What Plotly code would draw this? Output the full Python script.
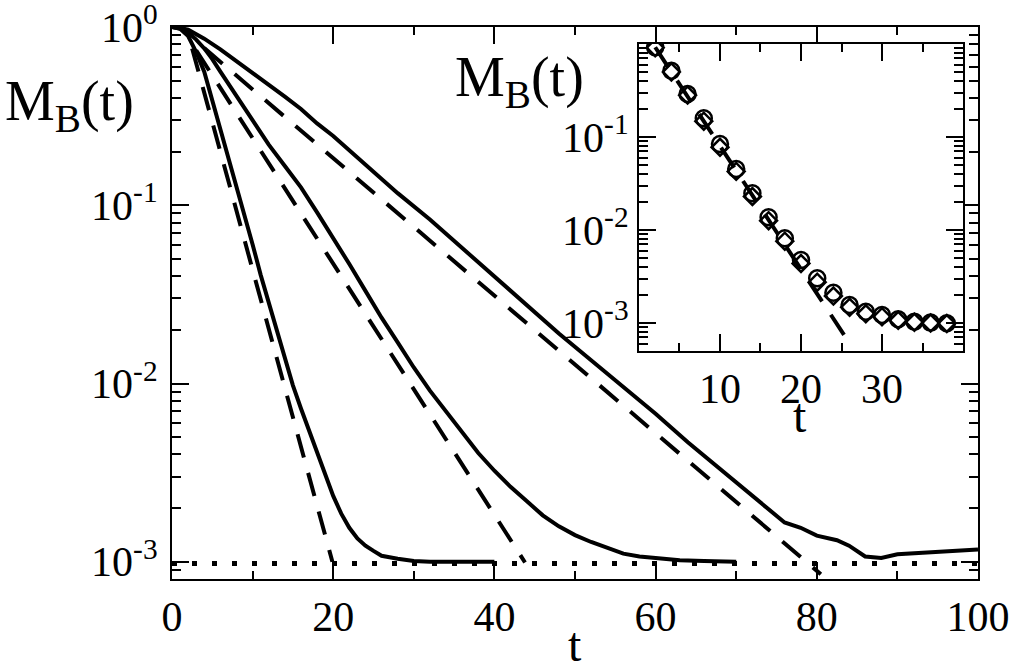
import plotly.graph_objects as go

# main panel: three solid curves, their exponential fits (dashed), floor (dotted)
t1 = [0, 1, 2, 3, 4, 5, 6, 7, 8, 9, 10, 11, 12, 13, 14, 15, 16, 17, 18, 19, 20,
      21, 22, 23, 24, 25, 26, 28, 30, 32, 34, 36, 38, 40]
m1 = [1.0, 0.977, 0.891, 0.724, 0.562, 0.389, 0.269, 0.186, 0.126, 0.0871, 0.0603,
      0.0407, 0.0282, 0.0195, 0.0138, 0.00977, 0.00724, 0.0055, 0.00407, 0.00309,
      0.00234, 0.00186, 0.00155, 0.00135, 0.00123, 0.00115, 0.00108, 0.00104,
      0.00101, 0.001, 0.000995, 0.001, 0.000998, 0.001]

t2 = [0, 1, 2, 3, 4, 5, 6, 7, 8, 9, 10, 12, 14, 16, 18, 20, 22, 24, 26, 28, 30,
      32, 34, 36, 38, 40, 42, 44, 46, 48, 50, 52, 54, 56, 58, 60, 63, 66, 70]
m2 = [1.0, 0.982, 0.933, 0.851, 0.759, 0.661, 0.562, 0.479, 0.407, 0.347, 0.295,
      0.219, 0.166, 0.126, 0.0912, 0.0661, 0.0468, 0.0331, 0.0234, 0.017, 0.0123,
      0.00912, 0.00692, 0.00525, 0.00407, 0.00324, 0.00263, 0.00219, 0.00182,
      0.00158, 0.00141, 0.00129, 0.00119, 0.00111, 0.00107, 0.00105, 0.00102,
      0.00101, 0.001]

t3 = [0, 1, 2, 4, 6, 8, 10, 12, 14, 16, 18, 20, 24, 28, 32, 36, 40, 44, 48, 52,
      56, 60, 64, 68, 72, 76, 78, 80, 82.5, 84, 86, 88, 90, 95, 100]
m3 = [1.0, 0.991, 0.966, 0.861, 0.75, 0.646, 0.556, 0.479, 0.407, 0.347, 0.288,
      0.245, 0.17, 0.117, 0.0832, 0.0575, 0.0398, 0.0275, 0.0191, 0.0135, 0.00955,
      0.00676, 0.00468, 0.00331, 0.00234, 0.00166, 0.00155, 0.0014, 0.00132,
      0.00123, 0.00107, 0.00105, 0.0011, 0.00114, 0.00117]

fit1_t = [2.5, 19.9]
fit1_m = [0.759, 0.001]
fit2_t = [3, 43.8]
fit2_m = [0.741, 0.00099]
fit3_t = [4, 80.5]
fit3_m = [0.762, 0.000851]

floor_t = [0, 100]
floor_m = [0.000977, 0.000977]

# inset
inset_t = [2, 4, 6, 8, 10, 12, 14, 16, 18, 20, 22, 24, 26, 28, 30, 32, 34, 36, 38]
inset_circ = [0.923, 0.516, 0.29, 0.159, 0.0841, 0.0453, 0.0248, 0.0137, 0.00815,
              0.00475, 0.00303, 0.00212, 0.00156, 0.00132, 0.00122, 0.0011,
              0.00103, 0.00101, 0.000993]
inset_diam = [0.912, 0.501, 0.282, 0.148, 0.0776, 0.0427, 0.0229, 0.0126, 0.00759,
              0.00437, 0.00275, 0.00195, 0.00148, 0.00126, 0.00117, 0.00107,
              0.00102, 0.001, 0.000989]
inset_fit_t = [2, 25.6]
inset_fit_m = [0.923, 0.000684]

x_ticks = [0, 20, 40, 60, 80, 100]
y_ticks = [1, 0.1, 0.01, 0.001]
y_labels = ['10<sup>0</sup>', '10<sup>-1</sup>', '10<sup>-2</sup>', '10<sup>-3</sup>']
inset_x_ticks = [10, 20, 30]

FONT = 'Liberation Serif'
DASH = '24px,16px'

fig = go.Figure()

for t, m in [(t1, m1), (t2, m2), (t3, m3)]:
    fig.add_trace(go.Scatter(x=t, y=m, mode='lines',
                             line=dict(color='black', width=4)))
for t, m in [(fit1_t, fit1_m), (fit2_t, fit2_m), (fit3_t, fit3_m)]:
    fig.add_trace(go.Scatter(x=t, y=m, mode='lines',
                             line=dict(color='black', width=4, dash=DASH)))
fig.add_trace(go.Scatter(x=floor_t, y=floor_m, mode='lines',
                         line=dict(color='black', width=5, dash='5px,15px')))

# inset traces
fig.add_trace(go.Scatter(x=inset_fit_t, y=inset_fit_m, mode='lines', xaxis='x2', yaxis='y2',
                         line=dict(color='black', width=4, dash=DASH)))
fig.add_trace(go.Scatter(x=inset_t, y=inset_circ, mode='markers', xaxis='x2', yaxis='y2',
                         marker=dict(symbol='circle-open', size=16, color='black',
                                     line=dict(width=2.5, color='black'))))
fig.add_trace(go.Scatter(x=inset_t, y=inset_diam, mode='markers', xaxis='x2', yaxis='y2',
                         marker=dict(symbol='diamond-open', size=13, color='black',
                                     line=dict(width=2.5, color='black'))))

axis_common = dict(showline=True, linecolor='black', linewidth=2, mirror='ticks',
                   ticks='inside', ticklen=17, tickwidth=2, tickcolor='black',
                   showgrid=False, zeroline=False, ticklabeloverflow='allow',
                   automargin=False,
                   tickfont=dict(family=FONT, size=42, color='black'))

fig.update_layout(
    width=1017, height=668,
    margin=dict(l=172, r=39, t=27, b=89, pad=0, autoexpand=False),
    paper_bgcolor='white', plot_bgcolor='white',
    showlegend=False,
    xaxis=dict(range=[0, 100], tickvals=x_ticks, domain=[0, 1],
               minor=dict(ticks='inside', ticklen=8, tickwidth=2, dtick=10, tickcolor='black'),
               **axis_common),
    yaxis=dict(type='log', range=[-3.097, 0.0004], tickvals=y_ticks, ticktext=y_labels,
               domain=[0, 1], ticklabelstandoff=4,
               minor=dict(ticks='inside', ticklen=9, tickwidth=2, dtick='D1', tickcolor='black'),
               **axis_common),
    xaxis2=dict(range=[0, 40], tickvals=inset_x_ticks, domain=[0.5794, 0.9814],
                anchor='y2',
                minor=dict(ticks='inside', ticklen=8, tickwidth=2, dtick=5, tickcolor='black'),
                **axis_common),
    yaxis2=dict(type='log', range=[-3.301, 0], tickvals=y_ticks[1:], ticktext=y_labels[1:],
                domain=[0.413, 0.9692], anchor='x2',
                minor=dict(ticks='inside', ticklen=9, tickwidth=2, dtick='D1', tickcolor='black'),
                **axis_common),
)

label_font = dict(family=FONT, size=56, color='black')
fig.add_annotation(text='M<sub>B</sub>(t)', xref='paper', yref='paper',
                   x=-0.2097, y=0.9257, xanchor='left', yanchor='top',
                   showarrow=False, font=label_font)
fig.add_annotation(text='M<sub>B</sub>(t)', xref='paper', yref='paper',
                   x=0.3486, y=0.969, xanchor='left', yanchor='top',
                   showarrow=False, font=label_font)
fig.add_annotation(text='t', xref='paper', yref='paper',
                   x=0.5, y=-0.0675, xanchor='center', yanchor='top',
                   showarrow=False, font=dict(family=FONT, size=48, color='black'))
fig.add_annotation(text='t', xref='paper', yref='paper',
                   x=0.779, y=0.3478, xanchor='center', yanchor='top',
                   showarrow=False, font=dict(family=FONT, size=48, color='black'))

fig.write_html("out.html", config={'displayModeBar': False},
               post_script="document.body.style.margin='0';")
